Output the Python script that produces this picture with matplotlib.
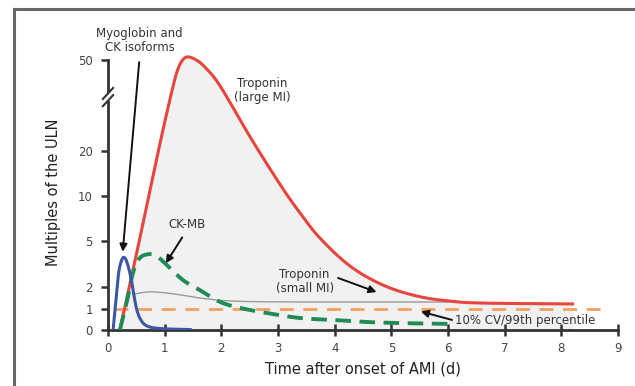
import numpy as np
import matplotlib
matplotlib.use("Agg")
import matplotlib.pyplot as plt
from matplotlib.lines import Line2D

plt.rcParams['font.family'] = ['DejaVu Sans']

# ---- data ----
y_ticks = [0, 1, 2, 5, 10, 20, 50]
x_ticks = [0, 1, 2, 3, 4, 5, 6, 7, 8, 9]

trop_large_t = [0.21, 0.48, 0.74, 0.95, 1.09, 1.20, 1.29, 1.39, 1.53, 1.71, 1.98, 2.50,
                3.03, 3.39, 3.74, 4.27, 4.85, 5.45, 6.03, 6.61, 8.20]
trop_large_v = [0, 3.76, 11.3, 25.3, 36.8, 45.1, 49.3, 51.0, 50.3, 47.7, 41.4, 24.9,
                12.7, 8.1, 5.33, 3.37, 2.13, 1.59, 1.36, 1.27, 1.23]

myo_t = [0.09, 0.14, 0.19, 0.25, 0.30, 0.35, 0.41, 0.46, 0.51, 0.58, 0.69, 0.92, 1.45]
myo_v = [0, 1.41, 2.98, 3.83, 3.89, 3.43, 2.52, 1.59, 0.95, 0.48, 0.19, 0.07, 0.02]

ckmb_t = [0.21, 0.34, 0.44, 0.56, 0.74, 0.88, 1.04, 1.32, 1.62, 1.98, 2.33, 2.80,
          3.39, 3.97, 4.57, 5.15, 6.0]
ckmb_v = [0, 1.41, 2.91, 3.89, 4.15, 3.96, 3.43, 2.46, 1.86, 1.32, 1.05, 0.81,
          0.57, 0.48, 0.38, 0.33, 0.29]

trop_small_t = [0.44, 0.56, 0.79, 1.18, 1.62, 2.20, 3.39, 6.16]
trop_small_v = [1.64, 1.73, 1.78, 1.68, 1.50, 1.36, 1.32, 1.32]

cutoff_t = [0.1, 8.7]
cutoff_v = [1, 1]

# ---- custom y scale (piecewise, as in reference) ----
scale_vals = [0, 1, 2, 5, 10, 20, 50, 100]
scale_pos = [0, 21, 43, 89, 134, 179, 270, 421.7]

def fwd(v):
    return np.interp(v, scale_vals, scale_pos)

def inv(p):
    return np.interp(p, scale_pos, scale_vals)

fig = plt.figure(figsize=(6.35, 3.86), dpi=100)
ax = fig.add_axes([108/635, 56/386, 510/635, 276/386])
ax.set_yscale('function', functions=(fwd, inv))

def smooth(t, v):
    pts = np.column_stack([np.asarray(t, float), fwd(np.asarray(v, float))])
    P = np.vstack([pts[0], pts, pts[-1]])
    out = []
    for i in range(1, len(P) - 2):
        p0, p1, p2, p3 = P[i-1], P[i], P[i+1], P[i+2]
        for s in np.linspace(0, 1, 24, endpoint=False):
            s2, s3 = s*s, s*s*s
            pt = 0.5*((2*p1) + (-p0 + p2)*s + (2*p0 - 5*p1 + 4*p2 - p3)*s2
                      + (-p0 + 3*p1 - 3*p2 + p3)*s3)
            out.append(pt)
    out.append(pts[-1])
    out = np.array(out)
    return out[:, 0], inv(np.clip(out[:, 1], 0, None))

rt, rv = smooth(trop_large_t, trop_large_v)
bt, bv = smooth(myo_t, myo_v)
gt, gv = smooth(ckmb_t, ckmb_v)
st, sv = smooth(trop_small_t, trop_small_v)

ax.fill_between(rt, 0, rv, color='#f1f1f1', zorder=0, lw=0)
ax.plot(cutoff_t, cutoff_v, color='#f4a15d', lw=2, dashes=(5, 3.5), zorder=2)
ax.plot(st, sv, color='#9a9a9a', lw=1.0, zorder=2)
ax.plot(rt, rv, color='#e8453f', lw=2.2, zorder=3)
ax.plot(gt, gv, color='#1f8c55', lw=2.8, dashes=(4, 2.2), zorder=4)
ax.plot(bt, bv, color='#3d57a3', lw=2.2, zorder=5)

ax.set_xlim(0, 9)
ax.set_ylim(0, 52)
ax.set_xticks(x_ticks)
ax.set_yticks(y_ticks)
ax.set_xticklabels([str(x) for x in x_ticks])
ax.set_yticklabels([str(y) for y in y_ticks])

for s in ['top', 'right']:
    ax.spines[s].set_visible(False)
for s in ['left', 'bottom']:
    ax.spines[s].set_color('#333333')
    ax.spines[s].set_linewidth(2)
ax.spines['left'].set_bounds(0, 50)
ax.tick_params(axis='y', direction='out', length=5, width=1.8, colors='#333333',
               labelsize=8.5, labelcolor='#444444', pad=6)
ax.tick_params(axis='x', direction='inout', length=8, width=1.8, colors='#333333',
               labelsize=8.5, labelcolor='#444444', pad=5)
ax.patch.set_visible(False)

# axis break marks on y axis (axes fraction coords)
yb = 0.844
ax.add_line(Line2D([0, 0], [yb - 0.014, yb + 0.014], transform=ax.transAxes,
                   color='white', lw=4, clip_on=False, zorder=6, solid_capstyle='butt'))
for off in (-0.013, 0.013):
    ax.add_line(Line2D([-0.010, 0.010], [yb + off - 0.02, yb + off + 0.02],
                       transform=ax.transAxes, color='#333333', lw=1.5,
                       clip_on=False, zorder=7))

ax.set_xlabel('Time after onset of AMI (d)', fontsize=10.5, color='#222222', labelpad=4)
ax.set_ylabel('Multiples of the ULN', fontsize=10.5, color='#222222', labelpad=12)

akw = dict(arrowstyle='-|>', color='#111111', lw=1.4, mutation_scale=11,
           shrinkA=0, shrinkB=0)
tk = dict(fontsize=8.5, color='#333333', ha='center', va='center', linespacing=1.1)

# texts
ax.text(0.56, 56.5, 'Myoglobin and\nCK isoforms', **tk, clip_on=False)
ax.text(2.72, 39.8, 'Troponin\n(large MI)', **tk)
ax.text(1.39, 6.8, 'CK-MB', **tk)
ax.text(3.47, 2.39, 'Troponin\n(small MI)', **tk)
ax.text(6.12, 0.43, '10% CV/99th percentile', fontsize=8.5, color='#333333',
        ha='left', va='center')

# arrows
ax.annotate('', xy=(0.26, 4.3), xytext=(0.55, 49.3), arrowprops=akw, annotation_clip=False)
ax.annotate('', xy=(1.02, 3.55), xytext=(1.31, 5.4), arrowprops=akw)
ax.annotate('', xy=(4.74, 1.77), xytext=(4.06, 2.59), arrowprops=akw)
ax.annotate('', xy=(5.52, 0.88), xytext=(6.07, 0.48), arrowprops=akw)

# outer frame (top and left visible)
fig.add_artist(Line2D([14/635, 1], [1 - 9/386, 1 - 9/386], color='#666666', lw=2.2))
fig.add_artist(Line2D([14/635, 14/635], [0, 1 - 9/386], color='#666666', lw=2.2))

fig.savefig('out.png', dpi=100)
